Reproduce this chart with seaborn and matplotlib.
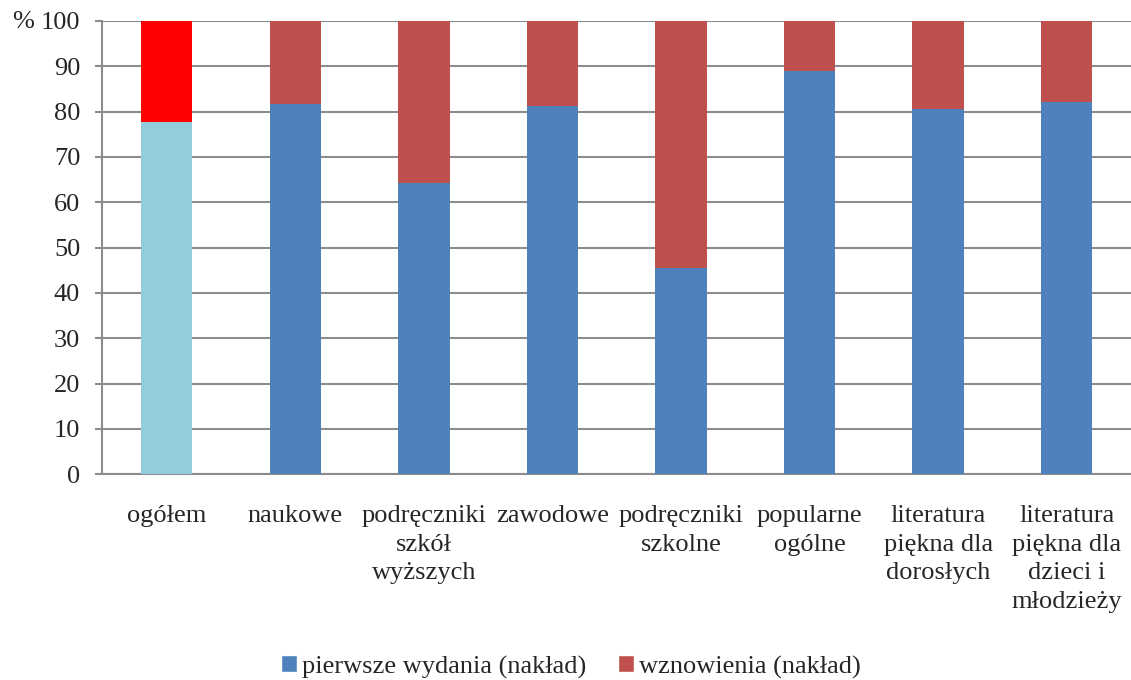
import numpy as np
import pandas as pd
import seaborn as sns
import matplotlib.pyplot as plt
from matplotlib.patches import Patch

categories = ['ogółem', 'naukowe', 'podręczniki\nszkół\nwyższych', 'zawodowe',
              'podręczniki\nszkolne', 'popularne\nogólne',
              'literatura\npiękna dla\ndorosłych',
              'literatura\npiękna dla\ndzieci i\nmłodzieży']
pierwsze = [77.8, 81.7, 64.2, 81.3, 45.6, 89.0, 80.5, 82.2]
wznowienia = [100 - v for v in pierwsze]

blue_cols = ['#93CDDD'] + ['#4F81BD'] * 7
red_cols = ['#FF0000'] + ['#C0504D'] * 7

df = pd.DataFrame({'kat': categories, 'pierwsze': pierwsze, 'wznowienia': wznowienia})
df['razem'] = df['pierwsze'] + df['wznowienia']

sns.set_style('white')
plt.rcParams['font.family'] = ['Liberation Serif', 'DejaVu Serif']
fs = 19

fig = plt.figure(figsize=(11.31, 6.8), dpi=100)
ax = fig.add_axes([0.0905, 0.3025, 0.9095, 0.6667])

# total bar underneath (red), first editions on top (blue)
sns.barplot(data=df, x='kat', y='razem', hue='kat', palette=red_cols,
            width=0.4, legend=False, ax=ax, saturation=1, linewidth=0, zorder=3)
sns.barplot(data=df, x='kat', y='pierwsze', hue='kat', palette=blue_cols,
            width=0.4, legend=False, ax=ax, saturation=1, linewidth=0, zorder=4)

ax.set_xlim(-0.5, len(categories) - 0.5)
ax.set_ylim(0, 100)
ax.set_yticks(np.arange(0, 101, 10))
ax.yaxis.grid(True, color='#8C8C8C', linewidth=1.5, zorder=0)
ax.set_axisbelow(True)
ax.set_xlabel('')
ax.set_ylabel('')

for s in ['top', 'right']:
    ax.spines[s].set_visible(False)
for s in ['left', 'bottom']:
    ax.spines[s].set_color('#8C8C8C')
    ax.spines[s].set_linewidth(1.5)

ax.set_xticks(np.arange(len(categories)))
ax.set_xticklabels(categories, fontsize=fs, linespacing=1.4, va='top')
ax.set_xticks(np.arange(-0.5, len(categories)), minor=True)
ax.tick_params(axis='x', which='major', length=0, pad=22)
ax.tick_params(axis='x', which='minor', length=6, width=1.2, color='#8C8C8C', direction='out')
ax.tick_params(axis='y', length=5, width=1.5, color='#8C8C8C', direction='out',
               labelsize=fs, pad=11, left=True)

fig.text(0.011, 1 - 22 / 680, '%', fontsize=fs, va='center', ha='left')

handles = [Patch(facecolor='#4F81BD', label='pierwsze wydania (nakład)'),
           Patch(facecolor='#C0504D', label='wznowienia (nakład)')]
fig.legend(handles=handles, loc='center', bbox_to_anchor=(0.505, 1 - 667 / 680),
           ncol=2, frameon=False, fontsize=fs, handlelength=0.6, handleheight=0.6,
           handletextpad=0.2, columnspacing=1.2)

fig.savefig('out.png', dpi=100)
